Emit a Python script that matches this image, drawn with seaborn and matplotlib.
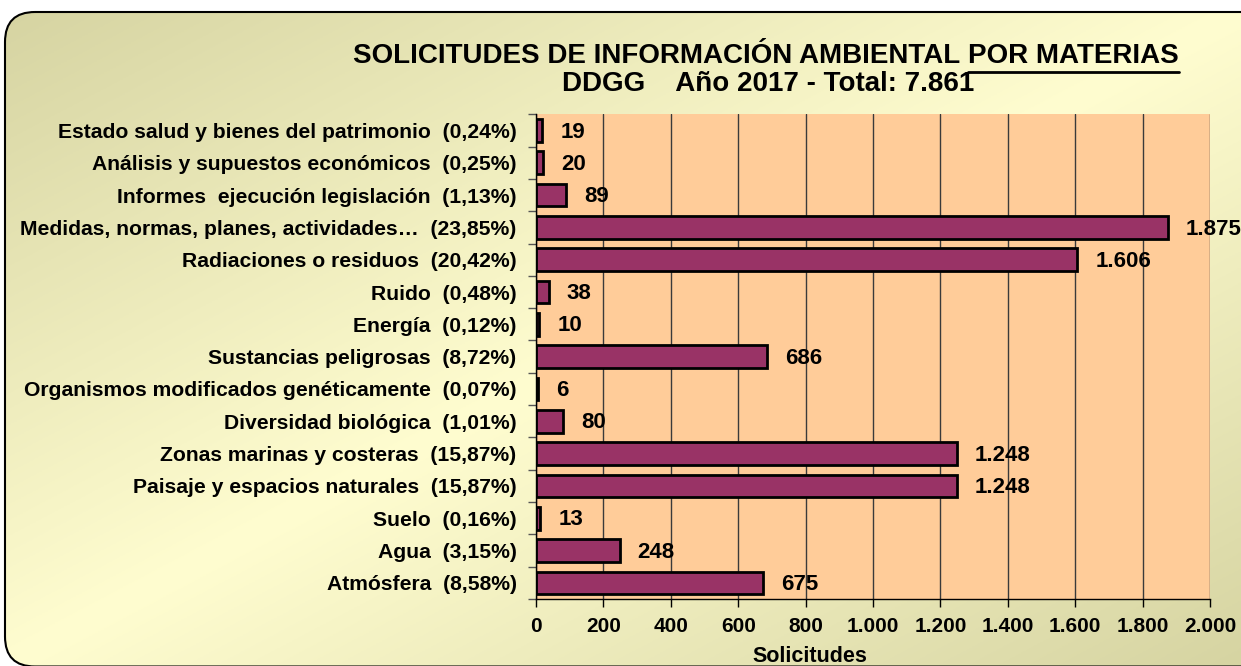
import matplotlib
matplotlib.use("Agg")
import matplotlib.pyplot as plt
import numpy as np
import pandas as pd
import seaborn as sns
from matplotlib.patches import FancyBboxPatch
from matplotlib.ticker import FuncFormatter, FixedLocator

# datos del gráfico
categorias = [
    "Estado salud y bienes del patrimonio",
    "Análisis y supuestos económicos",
    "Informes  ejecución legislación",
    "Medidas, normas, planes, actividades…",
    "Radiaciones o residuos",
    "Ruido",
    "Energía",
    "Sustancias peligrosas",
    "Organismos modificados genéticamente",
    "Diversidad biológica",
    "Zonas marinas y costeras",
    "Paisaje y espacios naturales",
    "Suelo",
    "Agua",
    "Atmósfera",
]
porcentajes = ["0,24%", "0,25%", "1,13%", "23,85%", "20,42%", "0,48%", "0,12%",
               "8,72%", "0,07%", "1,01%", "15,87%", "15,87%", "0,16%", "3,15%", "8,58%"]
valores = [19, 20, 89, 1875, 1606, 38, 10, 686, 6, 80, 1248, 1248, 13, 248, 675]
xticks = [0, 200, 400, 600, 800, 1000, 1200, 1400, 1600, 1800, 2000]

titulo_a = "SOLICITUDES DE INFORMACIÓN AMBIENTAL "
titulo_b = "POR MATERIAS"
subtitulo = "DDGG    Año 2017 - Total: 7.861"

W, H = 1241, 666

sns.set_theme(style="white")
plt.rcParams['font.family'] = ['Liberation Sans', 'DejaVu Sans']
plt.rcParams['font.weight'] = 'bold'
for k in ["text.color", "axes.labelcolor", "xtick.color", "ytick.color"]:
    plt.rcParams[k] = "black"

fig = plt.figure(figsize=(W / 100, H / 100), dpi=100)
fig.patch.set_facecolor("white")

# --- fondo con degradado y borde redondeado ---
ax_bg = fig.add_axes([0, 0, 1, 1], zorder=0)
ax_bg.set_xlim(0, W)
ax_bg.set_ylim(H, 0)
ax_bg.axis("off")

xn, yn = np.meshgrid(np.linspace(0, 1, 400), np.linspace(0, 1, 220))
t = np.abs(xn + yn - 1)
claro = np.array([255, 253, 208]) / 255
oscuro = np.array([214, 212, 162]) / 255
img = claro + (oscuro - claro) * t[..., None]
caja = FancyBboxPatch((5, 12), W + 40, H - 11.5, boxstyle="round,pad=0,rounding_size=30",
                      facecolor="none", edgecolor="black", linewidth=1.5, zorder=3)
ax_bg.add_patch(caja)
im = ax_bg.imshow(img, extent=(5, W, H, 12), aspect="auto", zorder=1)
im.set_clip_path(caja)

# --- gráfico de barras ---
df = pd.DataFrame({
    "etiqueta": [f"{c}  ({p})" for c, p in zip(categorias, porcentajes)],
    "valor": valores,
})

x0, x1 = 536 / W, 1210 / W
y1, y0 = 1 - 114.3 / H, 1 - 599 / H
ax = fig.add_axes([x0, y0, x1 - x0, y1 - y0], zorder=2)
ax.set_facecolor("#FFCC99")

sns.barplot(data=df, x="valor", y="etiqueta", orient="h", color="#993366",
            edgecolor="black", linewidth=2, width=0.7, saturation=1, ax=ax)

ax.set_xlim(0, 2000)
ax.set_ylim(len(categorias) - 0.5, -0.5)
ax.set_axisbelow(True)
ax.xaxis.set_major_locator(FixedLocator(xticks))
ax.xaxis.set_major_formatter(FuncFormatter(lambda v, p: f"{int(v):,}".replace(",", ".")))
ax.grid(axis="x", color="#3a3a3a", linewidth=1)
ax.grid(axis="y", visible=False)

for s in ["top", "right"]:
    ax.spines[s].set_visible(False)
for s in ["left", "bottom"]:
    ax.spines[s].set_color("black")
    ax.spines[s].set_linewidth(1)

ax.set_xlabel("")
ax.set_ylabel("")
ax.tick_params(axis="y", which="major", length=0, pad=14, labelsize=15.2)
ax.yaxis.set_minor_locator(FixedLocator(np.arange(-0.5, len(categorias), 1)))
ax.tick_params(axis="y", which="minor", left=True, length=6, width=1, color="#555555", direction="out")
ax.tick_params(axis="x", which="major", bottom=True, length=6, width=1, color="black",
               direction="out", pad=7, labelsize=15)
for lab in ax.get_yticklabels() + ax.get_xticklabels():
    lab.set_fontweight("bold")

for i, v in enumerate(valores):
    ax.annotate(f"{v:,}".replace(",", "."), xy=(v, i + 0.05), xytext=(13, 0),
                textcoords="offset points", va="center", ha="left",
                fontsize=16, fontweight="bold", annotation_clip=False)

fig.text(810 / W, 1 - 657 / H, "Solicitudes", ha="center", va="center",
         fontsize=15.5, fontweight="bold")

# --- título con subrayado parcial ---
fig.canvas.draw()
r = fig.canvas.get_renderer()
ty = 1 - 56 / H
medida = fig.text(0, 0, titulo_a + titulo_b, fontsize=20, fontweight="bold")
ancho = medida.get_window_extent(r).width
medida.remove()
cx = 766
ta = fig.text((cx - ancho / 2) / W, ty, titulo_a, ha="left", va="center", fontsize=20, fontweight="bold")
tb = fig.text((cx + ancho / 2) / W, ty, titulo_b, ha="right", va="center", fontsize=20, fontweight="bold")
bb = tb.get_window_extent(r)
ax_bg.plot([bb.x0, bb.x1], [H - bb.y0 + 3, H - bb.y0 + 3], color="black", linewidth=2, zorder=4)
fig.text(768 / W, 1 - 84 / H, subtitulo, ha="center", va="center", fontsize=20, fontweight="bold")

plt.savefig("out.png", dpi=100)
plt.close()
